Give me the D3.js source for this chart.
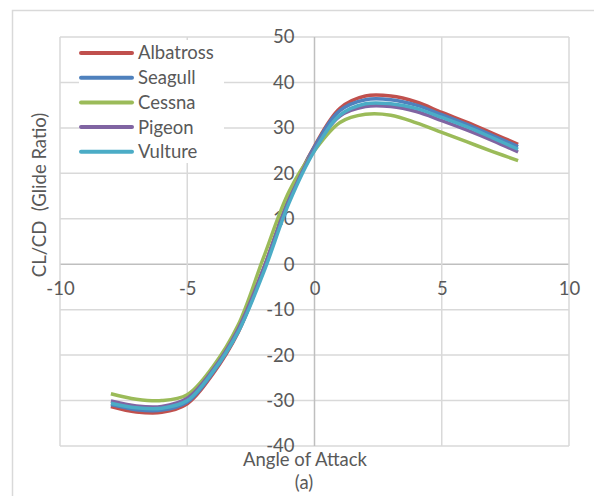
<!DOCTYPE html>
<html>
  <head>
    <meta charset="utf-8">
    <style>
      body { margin: 0; background: #fff; }
      text { font-family: Lato, "Open Sans", sans-serif; fill: #595959; }
    </style>
  </head>
  <body>
    <svg></svg>
    <script src="https://d3js.org/d3.v7.min.js"></script>
    <script>
      // angle of attack (deg)
      var angles = [-8, -7, -6, -5, -4, -3, -2, -1, 0, 1, 2, 3, 4, 5, 6, 7, 8];

      // CL/CD
      var albatross = [-31.3, -32.5, -32.6, -30.7, -24.2, -15.0, -1.0, 14.5, 26.0, 34.3, 37.0, 37.0, 35.7, 33.4, 31.2, 28.8, 26.4];
      var seagull   = [-30.9, -32.0, -32.1, -30.3, -23.9, -14.8, -1.0, 14.3, 25.8, 33.8, 36.2, 36.2, 35.0, 32.9, 30.7, 28.3, 25.9];
      var cessna    = [-28.5, -29.7, -30.0, -28.7, -22.6, -13.4, 1.5, 16.0, 25.0, 31.2, 33.0, 32.8, 31.1, 29.0, 26.9, 24.8, 22.8];
      var pigeon    = [-30.1, -31.2, -31.3, -29.5, -23.3, -14.3, -1.0, 14.0, 25.3, 32.6, 34.7, 34.7, 33.6, 31.6, 29.5, 27.2, 24.7];
      var vulture   = [-30.6, -31.6, -31.7, -30.0, -23.7, -14.9, -1.8, 13.5, 25.0, 32.8, 35.3, 35.3, 34.3, 32.3, 30.2, 27.8, 25.3];

      var seriesNames = ["Albatross", "Seagull", "Cessna", "Pigeon", "Vulture"];
      var seriesValues = [albatross, seagull, cessna, pigeon, vulture];
      var colors = ["#c0504d", "#4f81bd", "#9bbb59", "#8064a2", "#4bacc6"];

      var xTicks = [-10, -5, 0, 5, 10];
      var yTicks = [-40, -30, -20, -10, 0, 10, 20, 30, 40, 50];

      var svgWidth = 594, svgHeight = 496;
      var margin = { top: 37, right: 25, bottom: 50, left: 60 };
      var width = 569 - margin.left;
      var height = 446 - margin.top;
      var fontSize = "18.5px";

      var svg = d3.select("svg")
        .attr("width", svgWidth)
        .attr("height", svgHeight)

      // chart area border (only left and top fit in the picture)
      svg.append("rect")
        .attr("x", 12.5).attr("y", 10.5)
        .attr("width", 700).attr("height", 700)
        .attr("fill", "none")
        .attr("stroke", "#d9d9d9")
        .attr("stroke-width", 1.5)

      var g = svg.append("g")
        .attr("transform", "translate(" + margin.left + "," + margin.top + ")")

      var x = d3.scaleLinear().domain([-10, 10]).range([0, width])
      var y = d3.scaleLinear().domain([-40, 50]).range([height, 0])

      // grid
      g.append("g")
        .selectAll("line")
        .data(yTicks)
        .join("line")
        .attr("x1", 0).attr("x2", width)
        .attr("y1", d => y(d)).attr("y2", d => y(d))
        .attr("stroke", d => d === 0 ? "#bfbfbf" : "#d9d9d9")
        .attr("stroke-width", 1.5)

      g.append("g")
        .selectAll("line")
        .data(xTicks)
        .join("line")
        .attr("x1", d => x(d)).attr("x2", d => x(d))
        .attr("y1", 0).attr("y2", height)
        .attr("stroke", d => d === 0 ? "#bfbfbf" : "#d9d9d9")
        .attr("stroke-width", 1.5)

      // legend box hides grid behind it
      var legend = g.append("g").attr("transform", "translate(" + (80 - margin.left) + "," + (53 - margin.top) + ")")
      legend.append("rect")
        .attr("x", -1).attr("y", -13)
        .attr("width", 145).attr("height", 123)
        .attr("fill", "#fff")

      // tick labels through d3 axes, domain/ticks hidden, plain hyphen minus
      var fmt = d => String(d)

      var yAxis = g.append("g")
        .attr("transform", "translate(" + x(0) + ",0)")
        .call(d3.axisLeft(y).tickValues(yTicks).tickFormat(fmt).tickSize(0).tickPadding(20))
      yAxis.select(".domain").remove()
      yAxis.selectAll("text").style("font-size", fontSize).attr("fill", "#595959")

      var xAxis = g.append("g")
        .attr("transform", "translate(0," + y(0) + ")")
        .call(d3.axisBottom(x).tickValues(xTicks).tickFormat(fmt).tickSize(0).tickPadding(18))
      xAxis.select(".domain").remove()
      xAxis.selectAll("text").style("font-size", fontSize).attr("fill", "#595959")

      // lines
      var line = d3.line()
        .x((d, i) => x(angles[i]))
        .y(d => y(d))
        .curve(d3.curveCatmullRom.alpha(0.5))

      g.append("g")
        .selectAll("path")
        .data(seriesValues)
        .join("path")
        .attr("d", d => line(d))
        .attr("fill", "none")
        .attr("stroke", (d, i) => colors[i])
        .attr("stroke-width", 3.5)

      // legend entries
      var item = legend.selectAll(".item")
        .data(seriesNames)
        .join("g")
        .attr("class", "item")
        .attr("transform", (d, i) => "translate(0," + i * 24.7 + ")")

      item.append("line")
        .attr("x1", 1).attr("x2", 52)
        .attr("stroke", (d, i) => colors[i])
        .attr("stroke-width", 4)
        .attr("stroke-linecap", "round")

      item.append("text")
        .attr("x", 58)
        .attr("dy", "0.35em")
        .style("font-size", fontSize)
        .text(d => d)

      // axis titles
      svg.append("text")
        .attr("transform", "translate(46,195) rotate(-90)")
        .attr("text-anchor", "middle")
        .style("font-size", fontSize)
        .style("white-space", "pre")
        .text("CL/CD  (Glide Ratio)")

      svg.append("text")
        .attr("x", 305).attr("y", 466)
        .attr("text-anchor", "middle")
        .style("font-size", fontSize)
        .text("Angle of Attack")

      svg.append("text")
        .attr("x", 304).attr("y", 489)
        .attr("text-anchor", "middle")
        .style("font-size", fontSize)
        .text("(a)")
    </script>
  </body>
</html>
